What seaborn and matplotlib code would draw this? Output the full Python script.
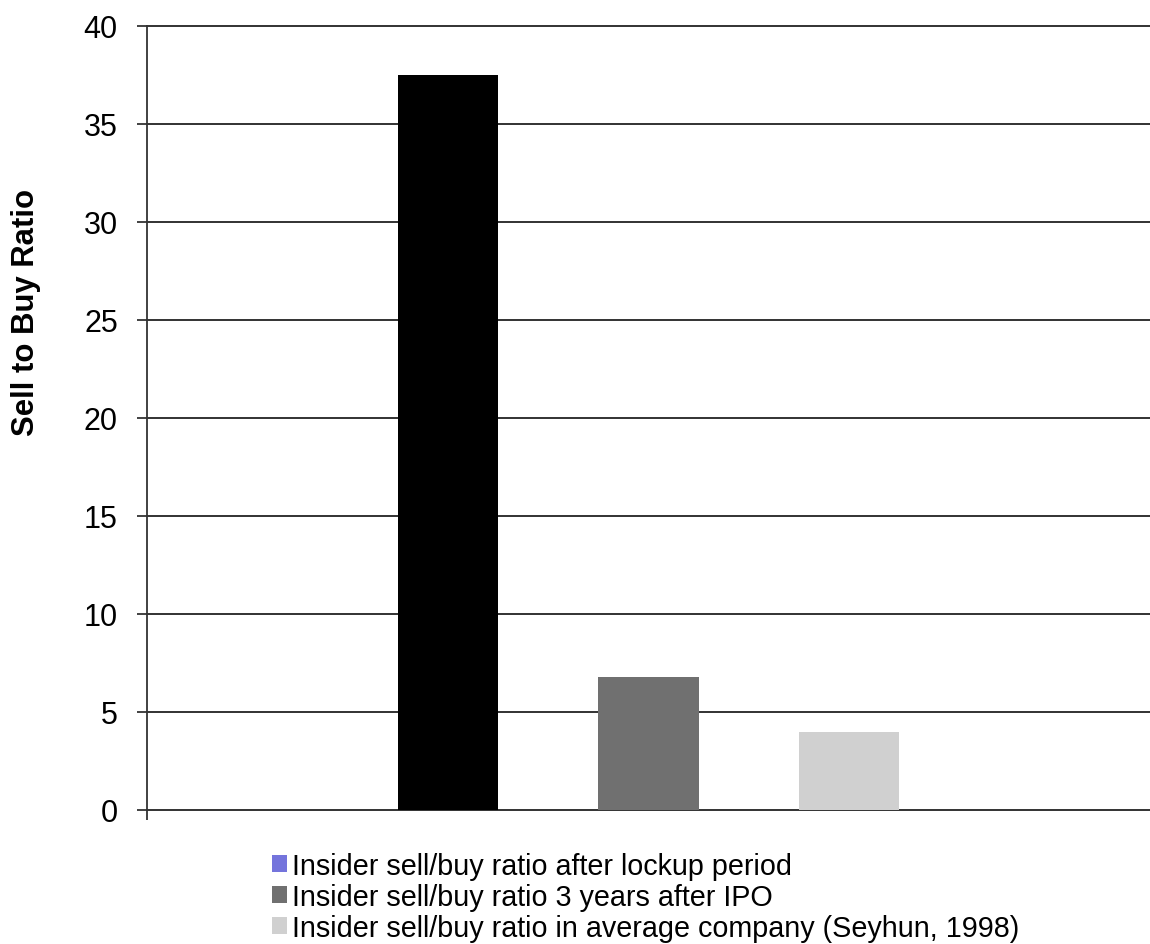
import matplotlib
matplotlib.use("Agg")
import matplotlib.pyplot as plt
import seaborn as sns
import pandas as pd
from matplotlib.patches import Patch

series = [
    "Insider sell/buy ratio after lockup period",
    "Insider sell/buy ratio 3 years after IPO",
    "Insider sell/buy ratio in average company (Seyhun, 1998)",
]
ratios = [37.5, 6.8, 4.0]
bar_colors = ["#000000", "#707070", "#d0d0d0"]
legend_colors = ["#7474dc", "#707070", "#d0d0d0"]
yticks = [0, 5, 10, 15, 20, 25, 30, 35, 40]

sns.set_theme(style="white")
plt.rcParams["font.family"] = ["Liberation Sans", "DejaVu Sans"]
plt.rcParams["text.color"] = "black"

df = pd.DataFrame({"group": ["all"] * 3, "series": series, "ratio": ratios})

W, H = 1150, 945
fig = plt.figure(figsize=(W / 100, H / 100), dpi=100)
ax = fig.add_axes([147 / W, 1 - 811 / H, 1 - 147 / W, (811 - 27) / H])

sns.barplot(data=df, x="group", y="ratio", hue="series", hue_order=series,
            palette=bar_colors, width=0.6, gap=0.5, saturation=1,
            linewidth=0, legend=False, ax=ax, zorder=3)

ax.set_xlim(-0.5, 0.5)
ax.set_ylim(0, 40)
ax.set_yticks(yticks)
ax.set_yticklabels([str(t) for t in yticks], fontsize=22, color="black")
ax.set_xticks([-0.5])
ax.set_xticklabels([""])
ax.set_xlabel("")

# axis title, placed by its centre
ax.set_ylabel("Sell to Buy Ratio", fontsize=22.4, fontweight="bold", color="black")
ax.yaxis.label.set(ha="center", va="center", rotation_mode="default")
ax.yaxis.set_label_coords((26 - 147) / (W - 147), (811 - 313) / (811 - 27))

for t in yticks:
    ax.axhline(t, color="#222222", lw=1.3, zorder=1, clip_on=False)

for side in ["top", "right", "bottom"]:
    ax.spines[side].set_visible(False)
ax.spines["left"].set_color("#333333")
ax.spines["left"].set_linewidth(1.3)
ax.tick_params(axis="y", direction="out", length=7, width=1.3, color="#333333",
               left=True, pad=14)
ax.tick_params(axis="x", direction="out", length=7, width=1.3, color="#333333",
               bottom=True)

handles = [Patch(facecolor=c, edgecolor="none") for c in legend_colors]
fig.legend(handles, series, loc="upper left",
           bbox_to_anchor=(272 / W, 1 - 853 / H), frameon=False,
           fontsize=20.7, labelcolor="black",
           handlelength=0.53, handleheight=0.53,
           handletextpad=0.18, labelspacing=0.1, borderaxespad=0, borderpad=0)

fig.savefig("out.png", dpi=100)
